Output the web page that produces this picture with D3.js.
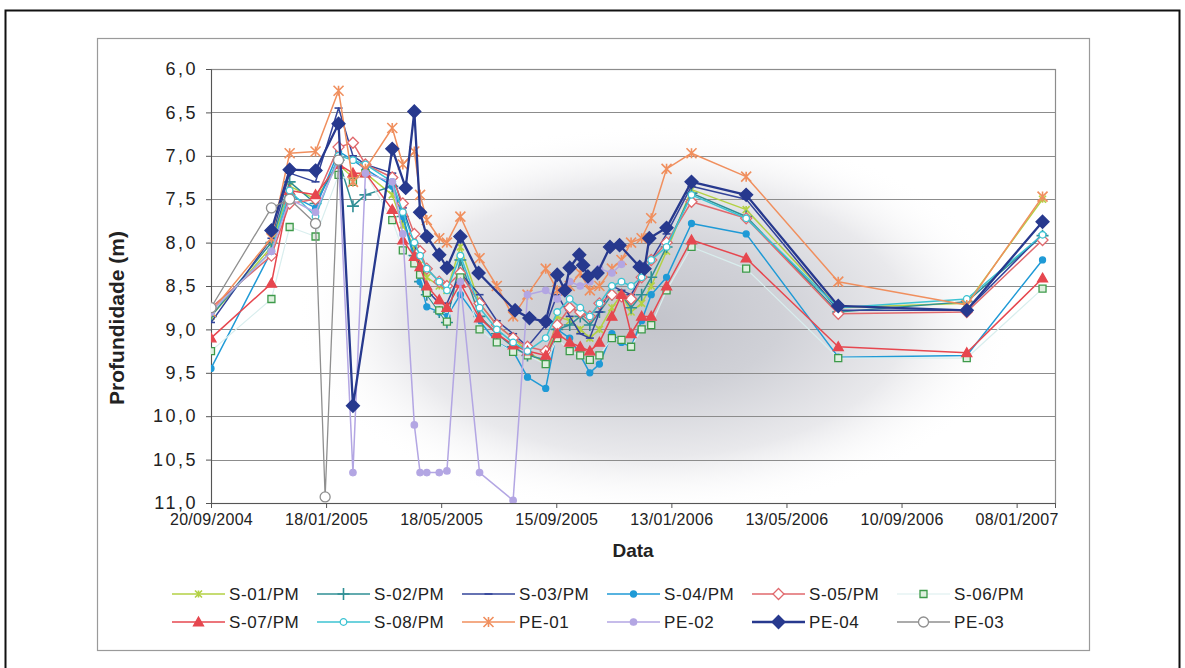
<!DOCTYPE html>
<html>
<head>
<meta charset="utf-8">
<script src="https://cdn.jsdelivr.net/npm/d3@7"></script>
<style>
  body { margin: 0; background: #fff; }
  text { font-family: "Liberation Sans", Arial, sans-serif; fill: #222; }
</style>
</head>
<body>
<script>
// Survey campaign dates shared by the S-xx/PM piezometers and PE-01
const surveyDates = ["20/09/2004","22/11/2004","11/12/2004","07/01/2005","31/01/2005","15/02/2005","28/02/2005",
  "28/03/2005","08/04/2005","20/04/2005","26/04/2005","03/05/2005","16/05/2005","24/05/2005","07/06/2005",
  "27/06/2005","15/07/2005","01/08/2005","16/08/2005","04/09/2005","16/09/2005","29/09/2005","10/10/2005",
  "20/10/2005","30/10/2005","12/11/2005","22/11/2005","02/12/2005","13/12/2005","23/12/2005","08/01/2006",
  "03/02/2006","01/04/2006","06/07/2006","17/11/2006","04/02/2007"];

// Depth to water (m) per well
const s01 = [8.85,8.05,7.35,7.5,7.1,7.25,7.2,7.45,7.8,8.05,8.25,8.4,8.5,8.55,8.05,8.7,8.95,9.1,9.25,9.4,8.85,8.9,9.0,9.1,9.0,8.75,8.6,8.8,8.7,8.5,8.1,7.39,7.62,8.75,8.7,7.5];
const s02 = [8.85,8.0,7.3,7.55,7.05,7.58,7.45,7.35,7.7,8.15,8.45,8.6,8.8,8.92,8.2,8.85,9.05,9.2,9.3,9.35,9.0,8.95,8.85,8.95,8.8,8.6,8.6,8.75,8.6,8.4,8.05,7.43,7.7,8.8,8.68,7.92];
const s03 = [8.92,7.95,7.2,7.3,6.45,7.0,7.1,7.2,7.6,8.0,8.3,8.55,8.7,8.7,8.35,8.6,8.9,9.05,9.2,8.95,8.6,8.85,9.05,9.1,8.8,8.5,8.55,8.6,8.4,8.2,7.9,7.35,7.5,8.78,8.78,7.9];
const s04 = [9.45,8.1,7.45,7.6,6.95,7.05,7.15,7.35,7.7,8.2,8.45,8.74,8.8,8.85,8.6,8.9,9.15,9.25,9.55,9.68,9.0,9.1,9.3,9.5,9.4,9.05,9.15,9.2,8.9,8.6,8.4,7.78,7.9,9.32,9.3,8.2];
const s05 = [8.75,8.15,7.55,7.5,6.9,6.85,7.1,7.25,7.55,7.9,8.1,8.3,8.45,8.5,8.35,8.7,8.95,9.1,9.2,9.25,8.95,8.75,8.8,8.85,8.7,8.6,8.62,8.65,8.4,8.2,8.0,7.53,7.72,8.82,8.8,7.97];
const s06 = [9.25,8.65,7.82,7.93,7.22,7.3,7.2,7.74,8.09,8.24,8.37,8.58,8.78,8.91,8.4,9.0,9.15,9.26,9.3,9.4,9.1,9.25,9.3,9.35,9.3,9.1,9.12,9.2,9.0,8.95,8.55,8.05,8.3,9.33,9.33,8.53];
const s07 = [9.1,8.47,7.4,7.45,7.1,7.2,7.2,7.62,7.97,8.16,8.28,8.5,8.66,8.75,8.47,8.87,9.05,9.18,9.25,9.3,9.05,9.15,9.2,9.25,9.15,8.85,8.6,9.05,8.85,8.85,8.5,7.97,8.18,9.2,9.27,8.41];
const s08 = [8.8,8.1,7.4,7.7,7.0,7.05,7.1,7.3,7.65,8.0,8.15,8.3,8.45,8.55,8.15,8.75,9.0,9.15,9.25,9.1,8.8,8.65,8.75,8.85,8.7,8.5,8.45,8.5,8.4,8.2,8.05,7.45,7.72,8.75,8.65,7.91];
const pe01 = [8.8,7.95,6.97,6.95,6.25,7.3,7.15,6.68,7.1,6.95,7.45,7.74,7.95,8.0,7.7,8.18,8.5,8.85,8.6,8.3,8.55,8.5,8.35,8.55,8.5,8.3,8.2,8.0,7.95,7.72,7.15,6.97,7.24,8.45,8.72,7.47];

const pe02Dates = ["20/09/2004","22/11/2004","11/12/2004","07/01/2005","31/01/2005","15/02/2005","28/02/2005",
  "28/03/2005","08/04/2005","20/04/2005","26/04/2005","03/05/2005","16/05/2005","24/05/2005","07/06/2005",
  "27/06/2005","01/08/2005","16/08/2005","04/09/2005","16/09/2005","29/09/2005","10/10/2005","20/10/2005",
  "30/10/2005","12/11/2005","22/11/2005"];
const pe02 = [8.8,8.1,7.5,7.65,7.05,10.65,7.2,7.3,7.9,10.1,10.65,10.65,10.65,10.63,8.45,10.65,10.97,8.6,8.55,8.65,8.45,8.5,8.45,8.3,8.35,8.25];

const pe04Dates = ["22/11/2004","11/12/2004","07/01/2005","31/01/2005","15/02/2005","28/03/2005","11/04/2005",
  "20/04/2005","26/04/2005","03/05/2005","16/05/2005","24/05/2005","07/06/2005","26/06/2005","03/08/2005",
  "18/08/2005","04/09/2005","16/09/2005","24/09/2005","29/09/2005","09/10/2005","13/10/2005","18/10/2005",
  "28/10/2005","10/11/2005","20/11/2005","11/12/2005","16/12/2005","21/12/2005","08/01/2006","03/02/2006",
  "01/04/2006","06/07/2006","17/11/2006","04/02/2007"];
const pe04 = [7.86,7.16,7.17,6.63,9.88,6.92,7.37,6.49,7.65,7.93,8.14,8.29,7.93,8.35,8.78,8.87,8.91,8.37,8.55,
  8.29,8.14,8.26,8.39,8.35,8.05,8.03,8.28,8.3,7.95,7.83,7.3,7.45,8.73,8.78,7.76];

const pe03Dates = ["20/09/2004","22/11/2004","11/12/2004","07/01/2005","17/01/2005","31/01/2005"];
const pe03 = [8.75,7.6,7.5,7.78,10.93,7.05];

// Axis ticks
const depthTicks = [6.0,6.5,7.0,7.5,8.0,8.5,9.0,9.5,10.0,10.5,11.0];
const dateTickLabels = ["20/09/2004","18/01/2005","18/05/2005","15/09/2005","13/01/2006","13/05/2006","10/09/2006","08/01/2007"];
const dateDomain = ["20/09/2004","17/02/2007"];

const parse = d3.timeParse("%d/%m/%Y");

// Series styling (draw order = legend order)
const series = [
  {name:"S-01/PM", dates:surveyDates, values:s01, color:"#b3d145", marker:"star", size:3.5, fill:"#b3d145", width:1.5},
  {name:"S-02/PM", dates:surveyDates, values:s02, color:"#2f8f95", marker:"plus", size:6, fill:"none", width:1.5},
  {name:"S-03/PM", dates:surveyDates, values:s03, color:"#33449a", marker:"dash", size:4, fill:"none", width:1.5},
  {name:"S-04/PM", dates:surveyDates, values:s04, color:"#1f9ad6", marker:"circle", size:3, fill:"#1f9ad6", width:1.5},
  {name:"S-05/PM", dates:surveyDates, values:s05, color:"#e0696d", marker:"diamond", size:5.5, fill:"#fff", width:1.5},
  {name:"S-06/PM", dates:surveyDates, values:s06, color:"#d9eeee", marker:"square", size:3.5, fill:"#dff0df", mcolor:"#3d9a4a", width:1.2},
  {name:"S-07/PM", dates:surveyDates, values:s07, color:"#e6474f", marker:"triangle", size:5, fill:"#e6474f", width:1.5},
  {name:"S-08/PM", dates:surveyDates, values:s08, color:"#3cc3d2", marker:"circle", size:3.3, fill:"#fff", width:1.5},
  {name:"PE-01", dates:surveyDates, values:pe01, color:"#f08f5e", marker:"star", size:5, fill:"none", width:1.5},
  {name:"PE-02", dates:pe02Dates, values:pe02, color:"#b3a6e3", marker:"circle", size:3.2, fill:"#b3a6e3", width:1.5},
  {name:"PE-04", dates:pe04Dates, values:pe04, color:"#27398e", marker:"diamond", size:6.5, fill:"#27398e", width:2.3},
  {name:"PE-03", dates:pe03Dates, values:pe03, color:"#8f8f8f", marker:"circle", size:5, fill:"#fff", width:1.3}
];

const W = 1185, H = 668;
const plot = {left:211, right:1055, top:69, bottom:503};

const svg = d3.select("body").append("svg").attr("width", W).attr("height", H)
  .style("display","block");

svg.append("rect").attr("width", W).attr("height", H).attr("fill", "#fff");

// Outer page frame and chart-area border
svg.append("rect").attr("x", 5.5).attr("y", 10.5).attr("width", 1174).attr("height", 700)
  .attr("fill","none").attr("stroke","#111").attr("stroke-width",2);
svg.append("rect").attr("x", 97.5).attr("y", 38.5).attr("width", 992).attr("height", 612)
  .attr("fill","none").attr("stroke","#9a9a9a").attr("stroke-width",1.2);

const x = d3.scaleTime().domain(dateDomain.map(parse)).range([plot.left, plot.right]);
const y = d3.scaleLinear().domain([6, 11]).range([plot.top, plot.bottom]);

// Plot-area shading
const defs = svg.append("defs");
const grad = defs.append("radialGradient").attr("id","haze");
grad.append("stop").attr("offset","0%").attr("stop-color","#c3c4cb");
grad.append("stop").attr("offset","35%").attr("stop-color","#d0d1d7");
grad.append("stop").attr("offset","70%").attr("stop-color","#e9e9ec");
grad.append("stop").attr("offset","100%").attr("stop-color","#ffffff").attr("stop-opacity",0);
defs.append("clipPath").attr("id","plotClip").append("rect")
  .attr("x", plot.left).attr("y", plot.top)
  .attr("width", plot.right - plot.left).attr("height", plot.bottom - plot.top);

svg.append("ellipse").attr("clip-path","url(#plotClip)")
  .attr("cx", 655).attr("cy", 320).attr("rx", 360).attr("ry", 195)
  .attr("fill","url(#haze)");

// Horizontal gridlines
svg.append("g").selectAll("line").data(depthTicks).join("line")
  .attr("x1", plot.left).attr("x2", plot.right)
  .attr("y1", d => Math.round(y(d)) + 0.5).attr("y2", d => Math.round(y(d)) + 0.5)
  .attr("stroke","#8c8c8c").attr("stroke-width",1.2);

svg.append("rect").attr("x", plot.left + 0.5).attr("y", plot.top + 0.5)
  .attr("width", plot.right - plot.left).attr("height", plot.bottom - plot.top)
  .attr("fill","none").attr("stroke","#8c8c8c").attr("stroke-width",1.2);

// Axes
const fmt = d => d3.format(".1f")(d).replace(".", ",");
const yAxis = svg.append("g").attr("transform", `translate(${plot.left},0)`)
  .call(d3.axisLeft(y).tickValues(depthTicks).tickFormat(fmt).tickSize(5).tickPadding(8));
yAxis.select(".domain").attr("stroke","#555");
yAxis.selectAll(".tick line").attr("stroke","#555");
yAxis.selectAll(".tick text").attr("font-size", 18).attr("letter-spacing", 2.5)
  .attr("font-family","Liberation Sans, Arial, sans-serif").attr("fill","#222");

const xAxis = svg.append("g").attr("transform", `translate(0,${plot.bottom})`)
  .call(d3.axisBottom(x).tickValues(dateTickLabels.map(parse))
    .tickFormat(d3.timeFormat("%d/%m/%Y")).tickSize(5).tickPadding(6));
xAxis.select(".domain").attr("stroke","#555");
xAxis.selectAll(".tick line").attr("stroke","#555");
xAxis.selectAll(".tick text").attr("font-size", 16).attr("letter-spacing", 0.3)
  .attr("font-family","Liberation Sans, Arial, sans-serif").attr("fill","#222");

// Axis titles
svg.append("text").attr("x", 633).attr("y", 557).attr("text-anchor","middle")
  .attr("font-size", 19).attr("font-weight","bold").text("Data");
svg.append("text").attr("transform","translate(124,318) rotate(-90)").attr("text-anchor","middle")
  .attr("font-size", 21).attr("font-weight","bold").text("Profundidade (m)");

// Marker shapes
function markerPath(type, r) {
  switch (type) {
    case "diamond": return `M0,${-r}L${r},0L0,${r}L${-r},0Z`;
    case "square": return `M${-r},${-r}H${r}V${r}H${-r}Z`;
    case "triangle": return `M0,${-r}L${r},${r*0.75}L${-r},${r*0.75}Z`;
    case "circle": return d3.symbol(d3.symbolCircle, Math.PI * r * r)();
    case "plus": return `M${-r},0H${r}M0,${-r}V${r}`;
    case "dash": return `M${-r},0H${r}`;
    case "star": return `M${-r},${-r}L${r},${r}M${-r},${r}L${r},${-r}M0,${-r}V${r}`;
  }
}
const strokeOnly = m => m === "star" || m === "plus" || m === "dash";

const line = d3.line().x(d => x(d.date)).y(d => y(d.v));
const chart = svg.append("g").attr("clip-path","url(#plotClip)");

series.forEach(s => {
  const pts = s.dates.map((d, i) => ({date: parse(d), v: s.values[i]}))
    .filter(p => p.v != null);
  const g = chart.append("g");
  g.append("path").datum(pts).attr("d", line)
    .attr("fill","none").attr("stroke", s.color).attr("stroke-width", s.width)
    .attr("stroke-linejoin","round");
  g.selectAll("path.m").data(pts).join("path").attr("class","m")
    .attr("transform", p => `translate(${x(p.date)},${y(p.v)})`)
    .attr("d", markerPath(s.marker, s.size))
    .attr("fill", s.fill).attr("stroke", s.mcolor || s.color)
    .attr("stroke-width", strokeOnly(s.marker) ? 1.6 : 1.3);
});

// Legend: two rows of six
const legend = svg.append("g");
series.forEach((s, i) => {
  const col = i % 6, row = Math.floor(i / 6);
  const x0 = 172 + col * 145, yy = 594 + row * 28;
  const g = legend.append("g").attr("transform", `translate(${x0},${yy})`);
  g.append("line").attr("x1", 0).attr("x2", 53).attr("y1", 0).attr("y2", 0)
    .attr("stroke", s.color).attr("stroke-width", s.width);
  g.append("path").attr("transform","translate(26.5,0)")
    .attr("d", markerPath(s.marker, s.size))
    .attr("fill", s.fill).attr("stroke", s.mcolor || s.color)
    .attr("stroke-width", strokeOnly(s.marker) ? 1.6 : 1.3);
  g.append("text").attr("x", 57).attr("y", 6).attr("font-size", 17).attr("letter-spacing", 0.6)
    .text(s.name);
});
</script>
</body>
</html>
